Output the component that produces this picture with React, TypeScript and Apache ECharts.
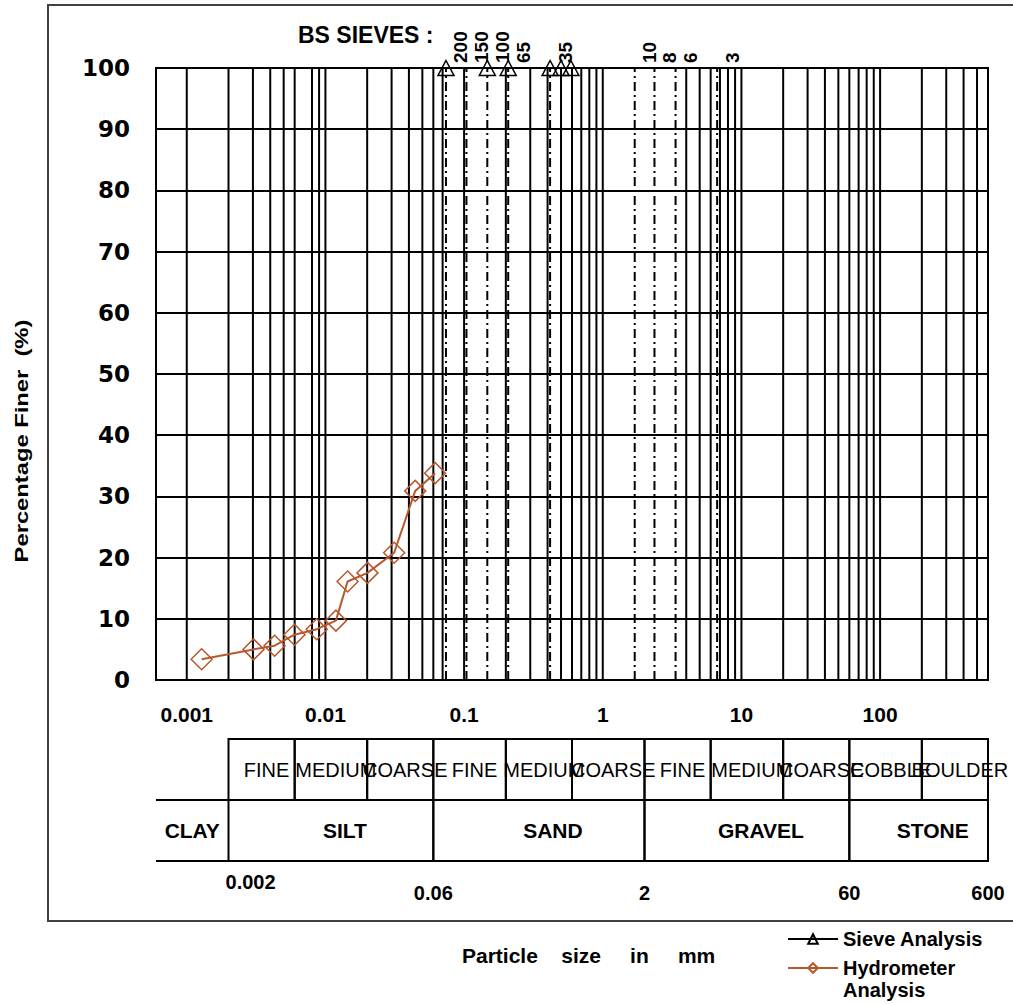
import React, { useEffect, useRef } from 'react';
import * as echarts from 'echarts';

// ---------- data ----------
const hydroSize = [0.00128, 0.00303, 0.0043, 0.00598, 0.00865, 0.0119, 0.01445, 0.0201, 0.0313, 0.0444, 0.0618];
const hydroFiner = [3.4, 5.0, 5.6, 7.4, 8.3, 9.7, 16.1, 17.5, 20.8, 30.9, 33.8];

const sieveSize = [0.074, 0.147, 0.208, 0.417, 0.5, 0.589];
const sieveFiner = [100, 100, 100, 100, 100, 100];

const bsSieveNo = ['200', '150', '100', '65', '35', '10', '8', '6', '3'];
const bsSieveSize = [0.074, 0.104, 0.147, 0.208, 0.417, 1.7, 2.36, 3.35, 6.68];

const xTickLabels = ['0.001', '0.01', '0.1', '1', '10', '100'];

const subClassLabels = ['FINE', 'MEDIUM', 'COARSE', 'FINE', 'MEDIUM', 'COARSE', 'FINE', 'MEDIUM', 'COARSE', 'COBBLE', 'BOULDER'];
const subClassBounds = [0.002, 0.006, 0.02, 0.06, 0.2, 0.6, 2, 6, 20, 60, 200, 600];

const mainClassLabels = ['CLAY', 'SILT', 'SAND', 'GRAVEL', 'STONE'];
const mainClassBounds = [0.0006, 0.002, 0.06, 2, 60, 600];

const boundaryLabels = ['0.002', '0.06', '2', '60', '600'];
const boundaryValues = [0.002, 0.06, 2, 60, 600];

// minor grid multiples that the reference leaves out
const omittedGrid = [0.007, 0.08, 0.09, 2, 3];

const X_MIN = 0.0006;
const X_MAX = 600;

// ---------- styles ----------
const FONT = '"Liberation Sans", Arial, Helvetica, sans-serif';
const BROWN = '#b8582c';

function gridLineValues(): number[] {
  const out: number[] = [];
  for (let e = -3; e <= 2; e++) {
    for (let m = 1; m <= 9; m++) {
      const v = m * Math.pow(10, e);
      if (v <= X_MIN || v >= X_MAX) continue;
      if (omittedGrid.some(o => Math.abs(o - v) / o < 1e-6)) continue;
      out.push(v);
    }
  }
  return out;
}

export default function App() {
  const ref = useRef<HTMLDivElement>(null);

  useEffect(() => {
    if (!ref.current) return;
    const chart = echarts.init(ref.current, undefined, { renderer: 'svg' });

    const cells: { x0: number; x1: number; row: number; label: string; bold: boolean; tb: boolean }[] = [];
    subClassLabels.forEach((l, i) => cells.push({ x0: subClassBounds[i], x1: subClassBounds[i + 1], row: 1, label: l, bold: false, tb: false }));
    mainClassLabels.forEach((l, i) => cells.push({ x0: mainClassBounds[i], x1: mainClassBounds[i + 1], row: 0, label: l, bold: true, tb: i === 0 }));

    const legendText = { fontFamily: FONT, fontWeight: 'bold', fontSize: 20, color: '#000', lineHeight: 22 };

    const option: any = {
      animation: false,
      backgroundColor: '#fff',
      textStyle: { fontFamily: FONT },
      grid: [
        { left: 156, top: 68, width: 832, height: 612, show: true, borderColor: '#000', borderWidth: 2, containLabel: false },
        { left: 156, top: 739, width: 832, height: 122, show: false, containLabel: false },
      ],
      xAxis: [
        {
          type: 'log', gridIndex: 0, min: X_MIN, max: X_MAX, logBase: 10,
          axisLine: { show: false }, axisTick: { show: false }, splitLine: { show: false }, minorSplitLine: { show: false },
          axisLabel: {
            show: true, interval: 0, margin: 24, showMinLabel: true, showMaxLabel: true,
            fontFamily: FONT, fontWeight: 'bold', fontSize: 21, color: '#000',
            formatter: (v: number) => {
              const l = Math.log10(v);
              const e = Math.round(l);
              if (Math.abs(l - e) > 1e-6) return '';
              return xTickLabels[e + 3] ?? '';
            },
          },
        },
        { type: 'log', gridIndex: 1, min: X_MIN, max: X_MAX, logBase: 10, show: false },
      ],
      yAxis: [
        {
          type: 'value', gridIndex: 0, min: 0, max: 100, interval: 10,
          axisLine: { show: false }, axisTick: { show: false },
          splitLine: { show: true, lineStyle: { color: '#000', width: 2 } },
          axisLabel: { margin: 26, fontFamily: '"DejaVu Sans", Verdana, sans-serif', fontWeight: 'bold', fontSize: 23, color: '#000' },
        },
        { type: 'value', gridIndex: 1, min: 0, max: 2, show: false },
      ],
      legend: [
        {
          orient: 'vertical', left: 782, top: 923, itemWidth: 50, itemHeight: 12,
          textStyle: legendText, data: ['Sieve Analysis'], selectedMode: false,
        },
        {
          orient: 'vertical', left: 782, top: 930, itemWidth: 50, itemHeight: 12,
          textStyle: { ...legendText, rich: { g: { fontSize: 20, lineHeight: 22 }, t: { ...legendText } } },
          formatter: (name: string) => '{g| }\n' + name.split(' ').map(w => `{t|${w}}`).join('\n'),
          data: ['Hydrometer Analysis'], selectedMode: false,
        },
      ],
      graphic: [
        { type: 'rect', shape: { x: 48, y: 5, width: 1000, height: 916 }, style: { fill: 'none', stroke: '#404040', lineWidth: 2 }, silent: true },
        { type: 'text', x: 298, y: 35, style: { text: 'BS SIEVES :', font: `bold 23px ${FONT}`, fill: '#000', textAlign: 'left', textVerticalAlign: 'middle', align: 'left', verticalAlign: 'middle' } },
        { type: 'text', x: 22, y: 441, rotation: Math.PI / 2, scaleX: 1.25, style: { text: 'Percentage Finer  (%)', font: `bold 19px ${FONT}`, fill: '#000', textAlign: 'center', textVerticalAlign: 'middle', align: 'center', verticalAlign: 'middle' } },
        { type: 'text', x: 462, y: 955, style: { text: 'Particle    size     in     mm', font: `bold 21px ${FONT}`, fill: '#000', textAlign: 'left', textVerticalAlign: 'middle', align: 'left', verticalAlign: 'middle' } },
      ],
      series: [
        // vertical log grid lines
        {
          type: 'custom', xAxisIndex: 0, yAxisIndex: 0, silent: true, z: 1,
          data: gridLineValues().map(v => [v, 0]),
          encode: { x: 0, y: 1 },
          renderItem: (_p: any, api: any) => {
            const v = api.value(0);
            const a = api.coord([v, 0]);
            const b = api.coord([v, 100]);
            return { type: 'line', shape: { x1: a[0], y1: a[1], x2: b[0], y2: b[1] }, style: { stroke: '#000', lineWidth: 2 } };
          },
        },
        // BS sieve lines
        {
          type: 'custom', xAxisIndex: 0, yAxisIndex: 0, silent: true, z: 2,
          data: bsSieveSize.map(v => [v, 100]),
          encode: { x: 0, y: 1 },
          renderItem: (params: any, api: any) => {
            const v = api.value(0);
            const a = api.coord([v, 0]);
            const b = api.coord([v, 100]);
            return {
              type: 'group',
              children: [
                { type: 'line', shape: { x1: a[0], y1: a[1], x2: b[0], y2: b[1] }, style: { stroke: '#000', lineWidth: 2, lineDash: [9, 4, 2, 4] } },
                {
                  type: 'text', x: b[0] + 15, y: b[1] - 5, rotation: Math.PI / 2,
                  style: { text: bsSieveNo[params.dataIndex], font: `bold 19px ${FONT}`, fill: '#000', textAlign: 'left', textVerticalAlign: 'middle', align: 'left', verticalAlign: 'middle' },
                },
              ],
            };
          },
        },
        {
          name: 'Sieve Analysis', type: 'line', xAxisIndex: 0, yAxisIndex: 0, z: 5, clip: false,
          data: sieveSize.map((s, i) => [s, sieveFiner[i]]),
          color: '#000',
          symbol: 'triangle', symbolSize: [16, 15],
          itemStyle: { color: 'rgba(255,255,255,0)', borderColor: '#000', borderWidth: 1.5 },
          lineStyle: { color: '#000', width: 2 },
        },
        {
          name: 'Hydrometer Analysis', type: 'line', xAxisIndex: 0, yAxisIndex: 0, z: 6, clip: false,
          data: hydroSize.map((s, i) => [s, hydroFiner[i]]),
          color: BROWN,
          symbol: 'diamond', symbolSize: 21,
          itemStyle: { color: 'rgba(255,255,255,0)', borderColor: BROWN, borderWidth: 1.5 },
          lineStyle: { color: BROWN, width: 2 },
        },
        // classification table
        {
          type: 'custom', xAxisIndex: 1, yAxisIndex: 1, silent: true, z: 3,
          data: cells.map(c => [c.x0, c.x1, c.row]),
          encode: { x: [0, 1], y: 2 },
          renderItem: (params: any, api: any) => {
            const c = cells[params.dataIndex];
            const p0 = api.coord([api.value(0), api.value(2) + 1]);
            const p1 = api.coord([api.value(1), api.value(2)]);
            const children: any[] = [];
            if (c.tb) {
              children.push({ type: 'line', shape: { x1: p0[0], y1: p0[1], x2: p1[0], y2: p0[1] }, style: { stroke: '#000', lineWidth: 2 } });
              children.push({ type: 'line', shape: { x1: p0[0], y1: p1[1], x2: p1[0], y2: p1[1] }, style: { stroke: '#000', lineWidth: 2 } });
            } else {
              children.push({ type: 'rect', shape: { x: p0[0], y: p0[1], width: p1[0] - p0[0], height: p1[1] - p0[1] }, style: { fill: 'none', stroke: '#000', lineWidth: 2 } });
            }
            const dx = c.bold ? (c.tb ? 0 : 14) : 5;
            const cx = (p0[0] + p1[0]) / 2 + dx;
            const cy = (p0[1] + p1[1]) / 2;
            children.push({
              type: 'text', x: cx, y: cy, z2: 10,
              style: {
                text: c.label, font: `${c.bold ? 'bold ' : ''}${c.bold ? 21 : 20}px ${FONT}`, fill: '#000',
                textAlign: 'center', textVerticalAlign: 'middle', align: 'center', verticalAlign: 'middle',
              },
            });
            return { type: 'group', children };
          },
        },
        // boundary labels under the table
        {
          type: 'custom', xAxisIndex: 1, yAxisIndex: 1, silent: true, z: 3,
          data: boundaryValues.map(v => [v, 0]),
          encode: { x: 0, y: 1 },
          renderItem: (params: any, api: any) => {
            const p = api.coord([api.value(0), 0]);
            const first = params.dataIndex === 0;
            return {
              type: 'text', x: first ? p[0] - 3 : p[0], y: first ? p[1] + 21 : p[1] + 32,
              style: {
                text: boundaryLabels[params.dataIndex], font: `bold 20px ${FONT}`, fill: '#000',
                textAlign: first ? 'left' : 'center', textVerticalAlign: 'middle', align: first ? 'left' : 'center', verticalAlign: 'middle',
              },
            };
          },
        },
      ],
    };

    chart.setOption(option);
    return () => chart.dispose();
  }, []);

  return <div ref={ref} style={{ position: 'fixed', left: 0, top: 0, width: 1013, height: 1004, background: '#fff' }} />;
}
